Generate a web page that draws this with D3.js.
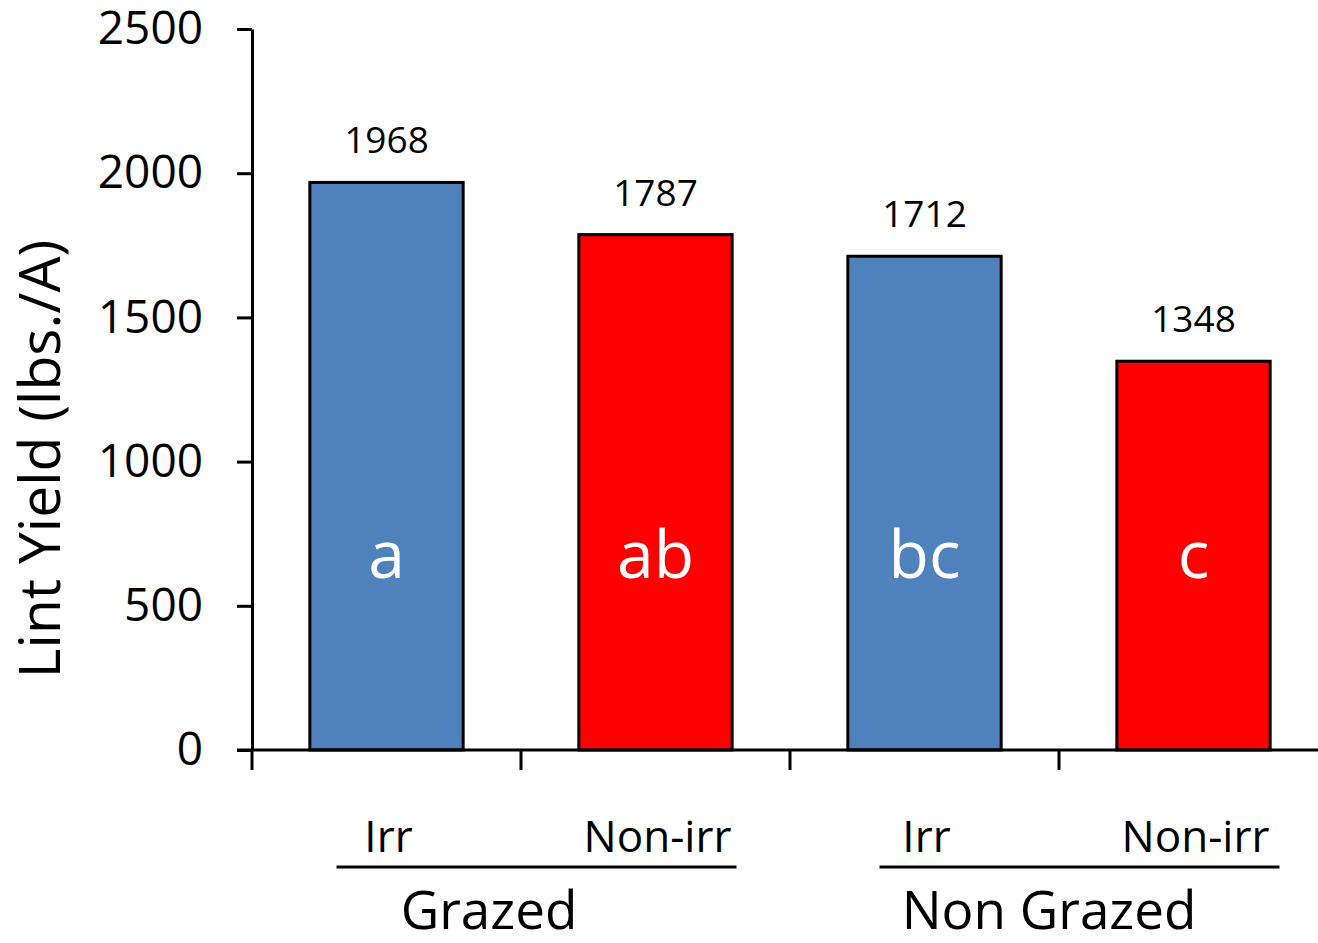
<!DOCTYPE html>
<html>
<head>
<meta charset="utf-8">
<script src="https://cdn.jsdelivr.net/npm/d3@7"></script>
<style>
  html, body { margin: 0; padding: 0; background: #fff; }
  svg { display: block; font-family: "Open Sans", "Noto Sans", sans-serif; }
</style>
</head>
<body>
<svg id="chart" width="1318" height="943"></svg>
<script>
// Lint yield by grazing and irrigation treatment
const categories = ["Irr", "Non-irr", "Irr", "Non-irr"];
const yields = [1968, 1787, 1712, 1348];
const letters = ["a", "ab", "bc", "c"];
const groups = ["Grazed", "Grazed", "Non Grazed", "Non Grazed"];
const groupNames = ["Grazed", "Non Grazed"];
const yTicks = [0, 500, 1000, 1500, 2000, 2500];
const barColors = ["#4F81BD", "#FF0000", "#4F81BD", "#FF0000"];

// Layout constants
const x0 = 252, x1 = 1328, yTop = 29, yBottom = 750;
const groupLabelShift = [-32, -10];
const groupLineExtent = [[-50, 81], [-45, 86]];

const svg = d3.select("#chart");

const x = d3.scaleBand()
  .domain(d3.range(categories.length))
  .range([x0, x1])
  .paddingInner(0.43)
  .paddingOuter(0.215);

const slots = d3.scaleBand()
  .domain(d3.range(categories.length))
  .range([x0, x1])
  .padding(0);

const y = d3.scaleLinear().domain([0, 2500]).range([yBottom, yTop]);
const cx = i => x(i) + x.bandwidth() / 2;

// Bars
svg.append("g").selectAll("rect")
  .data(yields)
  .join("rect")
  .attr("x", (d, i) => x(i))
  .attr("y", d => y(d))
  .attr("width", x.bandwidth())
  .attr("height", d => y(0) - y(d))
  .attr("fill", (d, i) => barColors[i])
  .attr("stroke", "#000")
  .attr("stroke-width", 3);

// Value labels above bars
svg.append("g").selectAll("text")
  .data(yields)
  .join("text")
  .attr("x", (d, i) => cx(i))
  .attr("y", d => y(d) - 29)
  .attr("text-anchor", "middle")
  .attr("font-size", 37)
  .attr("fill", "#000")
  .text(d => d);

// Significance letters inside bars
svg.append("g").selectAll("text")
  .data(letters)
  .join("text")
  .attr("x", (d, i) => cx(i))
  .attr("y", 578)
  .attr("text-anchor", "middle")
  .attr("font-size", 66)
  .attr("fill", "#fff")
  .text(d => d);

// Y axis
const yAxis = svg.append("g")
  .attr("transform", `translate(${x0},0)`)
  .call(d3.axisLeft(y).tickValues(yTicks).tickSize(15).tickSizeOuter(0).tickPadding(34).tickFormat(d3.format("d")));
yAxis.select(".domain").attr("stroke-width", 3);
yAxis.selectAll(".tick line").attr("stroke-width", 3);
yAxis.selectAll(".tick text")
  .attr("font-family", "'Open Sans', sans-serif")
  .attr("font-size", 46)
  .attr("fill", "#000");

// X axis baseline with category boundary ticks
const xAxis = svg.append("g");
xAxis.append("line")
  .attr("x1", x0 - 15).attr("x2", x1)
  .attr("y1", y(0)).attr("y2", y(0))
  .attr("stroke", "#000").attr("stroke-width", 3);
xAxis.selectAll("line.tick")
  .data(d3.range(categories.length + 1))
  .join("line")
  .attr("class", "tick")
  .attr("x1", i => slots(i) !== undefined ? slots(i) : x1)
  .attr("x2", i => slots(i) !== undefined ? slots(i) : x1)
  .attr("y1", y(0)).attr("y2", y(0) + 20)
  .attr("stroke", "#000").attr("stroke-width", 3);

// Category labels
svg.append("g").selectAll("text")
  .data(categories)
  .join("text")
  .attr("x", (d, i) => cx(i) + 2)
  .attr("y", 852)
  .attr("text-anchor", "middle")
  .attr("font-size", 44)
  .attr("fill", "#000")
  .text(d => d);

// Group underlines and labels
groupNames.forEach((name, g) => {
  const idx = d3.range(categories.length).filter(i => groups[i] === name);
  const cFirst = cx(idx[0]);
  const cLast = cx(idx[idx.length - 1]);
  svg.append("line")
    .attr("x1", cFirst + groupLineExtent[g][0]).attr("x2", cLast + groupLineExtent[g][1])
    .attr("y1", 867).attr("y2", 867)
    .attr("stroke", "#000").attr("stroke-width", 3);
  svg.append("text")
    .attr("x", (cFirst + cLast) / 2 + groupLabelShift[g])
    .attr("y", 929)
    .attr("text-anchor", "middle")
    .attr("font-size", 53)
    .attr("fill", "#000")
    .text(name);
});

// Y axis title
svg.append("text")
  .attr("transform", `translate(60,459) rotate(-90)`)
  .attr("text-anchor", "middle")
  .attr("font-size", 57)
  .attr("fill", "#000")
  .text("Lint Yield (lbs./A)");
</script>
</body>
</html>
